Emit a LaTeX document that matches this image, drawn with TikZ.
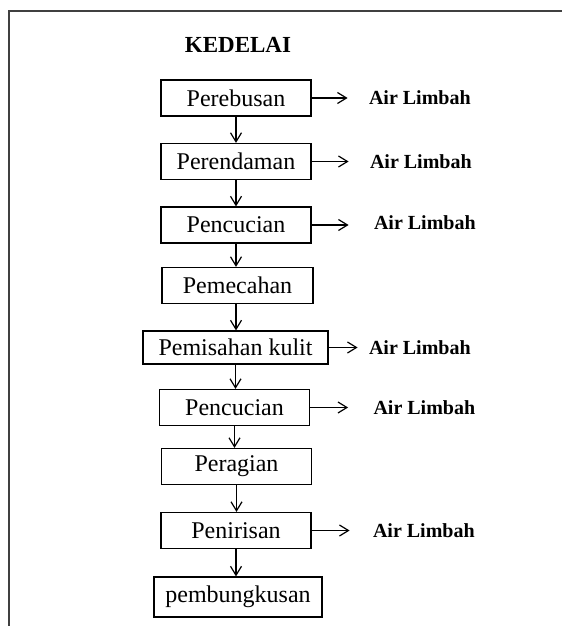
\documentclass[tikz,border=0pt]{standalone}
\usepackage{fontspec}
\setmainfont{Liberation Serif}
\usepackage{tikz}
\usetikzlibrary{arrows.meta}
\usetikzlibrary{positioning}

\begin{document}
\begin{tikzpicture}[x=0.5pt, y=-0.5pt]
    \tikzstyle{every node}=[font=\fontsize{12}{14}\selectfont];
    \tikzstyle{proses}=[draw, line width=0.6pt, minimum width=75pt, minimum height=18pt, inner sep=0pt];
    \tikzstyle{limbah}=[inner sep=0pt, font=\fontsize{10}{12}\selectfont\bfseries];
    \tikzstyle{panah}=[-{Straight Barb[length=4.5pt,width=5.5pt]}, line width=0.6pt];
    \useasboundingbox (0,0) rectangle (562,626);
    % bingkai
    \draw[line width=1.2pt, black!75] (9,626) -- (9,11) -- (562,11);
    \node[font=\fontsize{11.5}{13}\selectfont\bfseries] (judul) at (238,45) {KEDELAI};
    % tahapan proses
    \node[proses] (rebus) at (236,98) {Perebusan};
    \node[proses] (rendam) at (236,161.5) {Perendaman};
    \node[proses] (cuci1) at (236,225) {Pencucian};
    \node[proses, minimum width=75.5pt] (pecah) at (237.5,285.5) {Pemecahan};
    \node[proses, minimum width=92.5pt, minimum height=16.5pt] (kulit) at (235.5,347.5) {Pemisahan kulit};
    \node[proses] (cuci2) at (234.5,407.5) {Pencucian};
    \node[proses] (ragi) at (236.5,466.5) {Peragian};
    \node[proses] (tiris) at (236,530.5) {Penirisan};
    \node[proses, minimum width=84pt, minimum height=20pt] (bungkus) at (238,597) {pembungkusan};
    \draw[panah] (rebus.south) -- (rebus.south |- rendam.north);
    \draw[panah] (rendam.south) -- (rendam.south |- cuci1.north);
    \draw[panah] (cuci1.south) -- (cuci1.south |- pecah.north);
    \draw[panah] (pecah.south -| cuci1.south) -- (cuci1.south |- kulit.north);
    \draw[panah] (kulit.south) -- (kulit.south |- cuci2.north);
    \draw[panah] (cuci2.south) -- (cuci2.south |- ragi.north);
    \draw[panah] (ragi.south) -- (ragi.south |- tiris.north);
    \draw[panah] (tiris.south) -- (tiris.south |- bungkus.north);
    % air limbah
    \coordinate[right=18pt of rebus] (k1);
    \coordinate[right=18.5pt of rendam] (k2);
    \coordinate[right=18.5pt of cuci1] (k3);
    \coordinate[right=14.5pt of kulit] (k5);
    \coordinate[right=19pt of cuci2] (k6);
    \coordinate[right=19pt of tiris] (k8);
    \draw[panah] (rebus) -- (k1);
    \draw[panah] (rendam) -- (k2);
    \draw[panah] (cuci1) -- (k3);
    \draw[panah] (kulit) -- (k5);
    \draw[panah] (cuci2) -- (k6);
    \draw[panah] (tiris) -- (k8);
    \node[limbah, right=10.5pt of k1] (l1) {Air Limbah};
    \node[limbah, right=10.5pt of k2] (l2) {Air Limbah};
    \node[limbah, right=12.5pt of k3, yshift=1pt] (l3) {Air Limbah};
    \node[limbah, right=5.5pt of k5] (l5) {Air Limbah};
    \node[limbah, right=12.5pt of k6] (l6) {Air Limbah};
    \node[limbah, right=11.5pt of k8] (l8) {Air Limbah};
\end{tikzpicture}
\end{document}
